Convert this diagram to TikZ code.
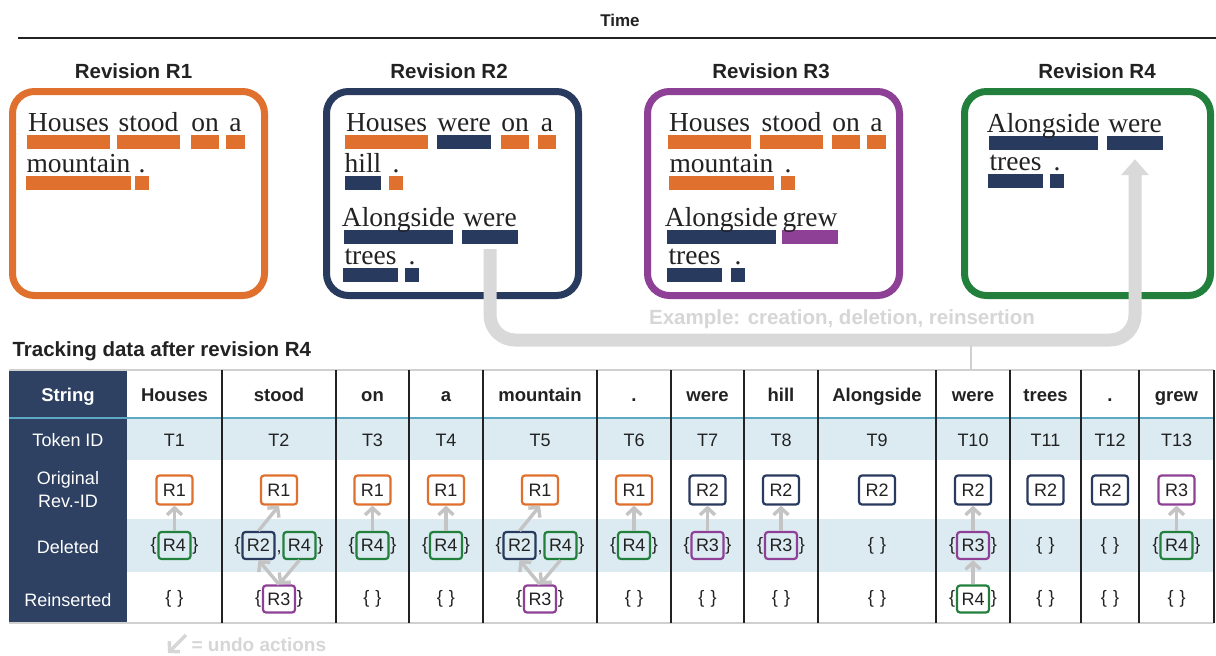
\documentclass[tikz,border=0pt]{standalone}
\usepackage{fontspec}
\setmainfont{Liberation Sans}
\newfontfamily\wordfont{Liberation Serif}
\usetikzlibrary{arrows.meta}
\definecolor{cOr}{HTML}{E0702E}
\definecolor{cNv}{HTML}{283A5E}
\definecolor{cPu}{HTML}{8E3F96}
\definecolor{cGr}{HTML}{23803C}
\definecolor{cRow}{HTML}{DCEBF2}
\definecolor{cHead}{HTML}{2E4163}
\definecolor{cArr}{HTML}{C4C4C4}
\definecolor{cConn}{HTML}{D9D9D9}
\definecolor{cGhost}{HTML}{D6D6D6}
\definecolor{cGrid}{HTML}{D0D0D0}
\definecolor{cSep}{HTML}{5DA9C4}
\definecolor{cTxt}{HTML}{222222}
\newcommand\tok[6]{%
  \node[bar=#2, minimum width={#4-#3}] (#1b) at ({(#3+#4)/2},{#5+11}) {};
  \node[word] (#1) at ({(#3+#4)/2},#5) {#6};}
\newcommand\brc[1]{%
  \node[br,anchor=east] (#1l) at (#1.west) {\{};
  \node[br,anchor=west] (#1r) at (#1.east) {\}};}
\begin{document}
\begin{tikzpicture}[x=1pt,y=-1pt,
  every node/.style={text=cTxt},
  revtitle/.style={font=\fontsize{20.5}{24}\selectfont\bfseries},
  revbox/.style={draw=#1, line width=7pt, rounded corners=22pt, minimum width=252pt, minimum height=204pt, inner sep=0pt},
  word/.style={font=\wordfont\fontsize{27.5}{30}\selectfont, anchor=base, inner sep=0pt},
  bar/.style={fill=#1, inner sep=0pt, minimum height=14pt},
  hdr/.style={font=\fontsize{18.5}{22}\selectfont\bfseries, anchor=base},
  cell/.style={font=\fontsize{18}{21}\selectfont, anchor=base},
  sidecell/.style={font=\fontsize{18}{23}\selectfont, text=white, align=center},
  rb/.style={draw=#1, line width=2.2pt, rounded corners=3pt, minimum width=36pt, minimum height=29pt, inner sep=0pt, font=\fontsize{18}{21}\selectfont},
  rs/.style={rb=#1, minimum width=32pt, minimum height=27pt},
  br/.style={font=\fontsize{18}{21}\selectfont, inner sep=0.6pt},
  undo/.style={draw=cArr, line width=3.4pt, -{Straight Barb[length=7pt,width=15pt]}},
  conn/.style={draw=cConn, line width=13pt, rounded corners=25pt, -{Triangle[length=16pt,width=27pt]}},
  ghost/.style={text=cGhost, font=\fontsize{20.5}{24}\selectfont\bfseries}
]
\useasboundingbox (0,0) rectangle (1216,656);
\fill[white] (0,0) rectangle (1216,656);

% time axis
\node[font=\fontsize{17}{20}\selectfont\bfseries] (time) at (620,20) {Time};
\coordinate (tl) at (18,38);
\coordinate (tr) at (1216,38);
\draw[cTxt, line width=2.2pt] (tl) -- (tr);

% revision titles and boxes
\node[revtitle] (rt1) at (133.5,71) {Revision R1};
\node[revtitle] (rt2) at (449,71) {Revision R2};
\node[revtitle] (rt3) at (771,71) {Revision R3};
\node[revtitle] (rt4) at (1097,71) {Revision R4};
\node[revbox=cOr] (rev1) at (138.5,193.5) {};
\node[revbox=cNv] (rev2) at (452.5,193.5) {};
\node[revbox=cPu] (rev3) at (773.5,193.5) {};
\node[revbox=cGr, minimum width=246pt] (rev4) at (1087.5,193.5) {};

% R1
\tok{aHouses}{cOr}{27}{110}{131}{Houses}
\tok{aStood}{cOr}{117}{180}{131}{stood}
\tok{aOn}{cOr}{191}{219}{131}{on}
\tok{aA}{cOr}{226}{245}{131}{a}
\tok{aMount}{cOr}{26}{131}{172}{mountain}
\tok{aDot}{cOr}{135}{149}{172}{.}
% R2
\tok{bHouses}{cOr}{345}{428}{131}{Houses}
\tok{bWere}{cNv}{437}{491}{131}{were}
\tok{bOn}{cOr}{501}{529}{131}{on}
\tok{bA}{cOr}{538}{556}{131}{a}
\tok{bHill}{cNv}{345}{381}{172}{hill}
\tok{bDot}{cOr}{389}{403}{172}{.}
\tok{bAlong}{cNv}{344}{453}{226}{Alongside}
\tok{bWereTwo}{cNv}{462}{518}{226}{were}
\tok{bTrees}{cNv}{343}{398}{264}{trees}
\tok{bDotTwo}{cNv}{405}{419}{264}{.}
% R3
\tok{cHouses}{cOr}{668}{751}{131}{Houses}
\tok{cStood}{cOr}{760}{823}{131}{stood}
\tok{cOn}{cOr}{832}{860}{131}{on}
\tok{cA}{cOr}{867}{886}{131}{a}
\tok{cMount}{cOr}{669}{774}{172}{mountain}
\tok{cDot}{cOr}{781}{795}{172}{.}
\tok{cAlong}{cNv}{667}{776}{226}{Alongside}
\tok{cGrew}{cPu}{782}{838}{226}{grew}
\tok{cTrees}{cNv}{667}{722}{264}{trees}
\tok{cDotTwo}{cNv}{731}{745}{264}{.}
% R4
\tok{dAlong}{cNv}{989}{1098}{132}{Alongside}
\tok{dWere}{cNv}{1107}{1163}{132}{were}
\tok{dTrees}{cNv}{988}{1043}{170}{trees}
\tok{dDot}{cNv}{1050}{1064}{170}{.}

% example connector
\node[ghost] (ex) at (842,319) {Example: creation, deletion, reinsertion};
\coordinate (cmid) at (800,340);
\draw[conn] ([yshift=-5pt]bWereTwob.south) |- (cmid) -| ([yshift=-9pt]dWereb.south);
\coordinate (cj) at (971,346);
\coordinate (tt) at (971,370);
\draw[cGrid, line width=2pt] (cj) -- (tt);

% table
\node[revtitle, anchor=west] (ttitle) at (9,351) {Tracking data after revision R4};
\fill[cRow] (127,418) rectangle (1214,460);
\fill[cRow] (127,519) rectangle (1214,572);
\fill[cHead] (9,370) rectangle (127,623);
\draw[cGrid, line width=2pt] (9,370) -- (1214,370);
\draw[cGrid, line width=2.5pt] (9,623) -- (1214,623);
\draw[cSep, line width=1.5pt] (9,418) -- (1214,418);
\foreach \x in {222,336,409,483,597,671,744,818,936,1010,1081,1139,1214}
  \draw[cTxt, line width=1.5pt] (\x,370) -- (\x,623);

\node[sidecell, font=\fontsize{18.5}{22}\selectfont\bfseries, anchor=base] (sString) at (68,401) {String};
\node[sidecell, anchor=base] (sTok) at (68,446) {Token ID};
\node[sidecell] (sOrig) at (68,490) {Original\\Rev.-ID};
\node[sidecell, anchor=base] (sDel) at (68,553) {Deleted};
\node[sidecell, anchor=base] (sRein) at (68,606) {Reinserted};

\foreach \c/\w [count=\i] in {174.5/Houses,279/stood,372.5/on,446/a,540/mountain,634/.,707.5/were,781/hill,877/Alongside,973/were,1045.5/trees,1110/.,1176.5/grew}{
  \node[hdr] (h\i) at (\c,401) {\w};
  \node[cell] (t\i) at (\c,446) {T\i};
}
\foreach \c/\r/\col [count=\i] in {174.5/R1/cOr,279/R1/cOr,372.5/R1/cOr,446/R1/cOr,540/R1/cOr,634/R1/cOr,707.5/R2/cNv,781/R2/cNv,877/R2/cNv,973/R2/cNv,1045.5/R2/cNv,1110/R2/cNv,1176.5/R3/cPu}{
  \node[rb=\col] (o\i) at (\c,490) {\r};
}

% deleted row
\node[rs=cGr] (d1) at (174.5,545.5) {R4}; \brc{d1}
\node[rs=cNv] (d2a) at (258.5,545.5) {R2};
\node[rs=cGr] (d2b) at (299.5,545.5) {R4};
\node[br,anchor=east] (d2l) at (d2a.west) {\{};
\node[br,anchor=west] (d2r) at (d2b.east) {\}};
\node[br,anchor=base] (d2c) at (279,552) {,};
\node[rs=cGr] (d3) at (372.5,545.5) {R4}; \brc{d3}
\node[rs=cGr] (d4) at (446,545.5) {R4}; \brc{d4}
\node[rs=cNv] (d5a) at (519.5,545.5) {R2};
\node[rs=cGr] (d5b) at (560.5,545.5) {R4};
\node[br,anchor=east] (d5l) at (d5a.west) {\{};
\node[br,anchor=west] (d5r) at (d5b.east) {\}};
\node[br,anchor=base] (d5c) at (540,552) {,};
\node[rs=cGr] (d6) at (634,545.5) {R4}; \brc{d6}
\node[rs=cPu] (d7) at (707.5,545.5) {R3}; \brc{d7}
\node[rs=cPu] (d8) at (781,545.5) {R3}; \brc{d8}
\node[br] (d9) at (877,545.5) {\{\hspace{6pt}\}};
\node[rs=cPu] (d10) at (973,545.5) {R3}; \brc{d10}
\node[br] (d11) at (1045.5,545.5) {\{\hspace{6pt}\}};
\node[br] (d12) at (1110,545.5) {\{\hspace{6pt}\}};
\node[rs=cGr] (d13) at (1176.5,545.5) {R4}; \brc{d13}

% reinserted row
\foreach \c [count=\i] in {174.5,372.5,446,634,707.5,781,877,1045.5,1110,1176.5}
  \node[br] (e\i) at (\c,599) {\{\hspace{6pt}\}};
\node[rs=cPu] (r2) at (279,599) {R3}; \brc{r2}
\node[rs=cPu] (r5) at (540,599) {R3}; \brc{r5}
\node[rs=cGr] (r10) at (973,599) {R4}; \brc{r10}

% undo arrows
\foreach \i in {1,3,4,6,7,8,10,13}
  \draw[undo] (d\i.north) -- (o\i.south);
\draw[undo] (d2a.north) -- (o2.south);
\draw[undo] (r2.north) -- (d2a.south);
\draw[undo] (d2b.south) -- (r2.north);
\draw[undo] (d5a.north) -- (o5.south);
\draw[undo] (r5.north) -- (d5a.south);
\draw[undo] (d5b.south) -- (r5.north);
\draw[undo] (r10.north) -- (d10.south);

% legend
\coordinate (lgA) at (186,635);
\coordinate (lgB) at (168,653);
\draw[undo, draw=cGhost] (lgA) -- (lgB);
\node[ghost, font=\fontsize{19}{22}\selectfont\bfseries, anchor=west] (lgT) at (188,644.5) {= undo actions};
\end{tikzpicture}
\end{document}
